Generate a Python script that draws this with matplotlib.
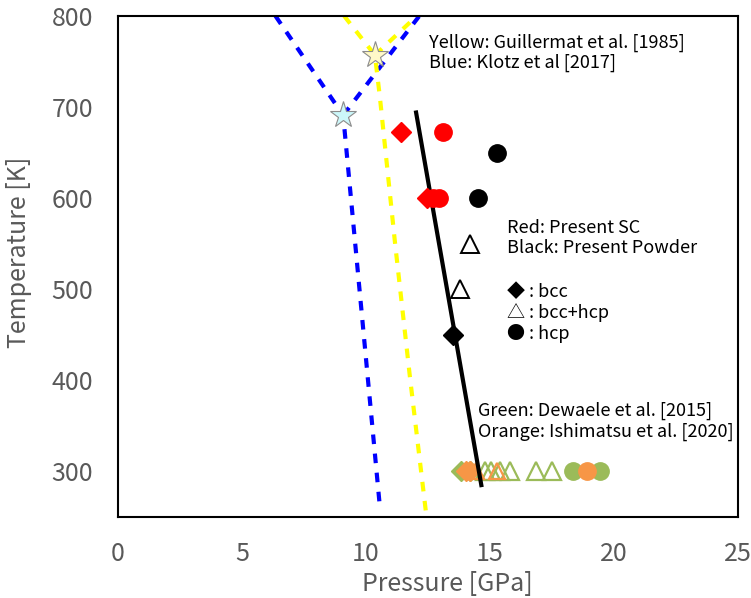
import matplotlib.pyplot as plt

plt.rcParams['font.family'] = ['Noto Sans CJK JP', 'DejaVu Sans']

# phase boundaries (P [GPa], T [K])
blue_p = [6.35, 9.08, 10.56]
blue_t = [800, 691, 261]
blue_arm_p = [9.08, 12.15]
blue_arm_t = [691, 800]
yellow_p = [9.12, 10.36, 10.56, 11.17, 11.77, 12.44]
yellow_t = [800, 757, 711, 551, 404, 250]
yellow_arm_p = [10.36, 12.05]
yellow_arm_t = [757, 800]
star_blue = (9.08, 691)
star_yellow = (10.36, 757)

# present work boundary
black_line_p = [12.02, 14.65]
black_line_t = [694, 285]

# present SC (red)
red_bcc_p = [11.4, 12.45]
red_bcc_t = [673, 600]
red_hcp_p = [13.1, 12.7, 12.95]
red_hcp_t = [673, 600, 600]

# present powder (black)
blk_bcc_p = [13.52]
blk_bcc_t = [450]
blk_mix_p = [14.19, 13.79]
blk_mix_t = [550, 500]
blk_hcp_p = [15.29, 14.5]
blk_hcp_t = [650, 600]

# Dewaele 2015 (green), 300 K
grn_bcc_p = [13.85, 14.2]
grn_mix_p = [14.8, 15.05, 15.4, 15.8, 16.85, 17.5]
grn_hcp_p = [18.35, 19.45]
# Ishimatsu 2020 (orange), 300 K
org_bcc_p = [14.05, 14.2]
org_mix_p = [14.45, 15.3]
org_hcp_p = [18.9]

GREEN = '#9BBB59'
ORANGE = '#F79646'
GREY = '#595959'

fig = plt.figure(figsize=(7.51, 5.98), dpi=100)
ax = fig.add_axes([0.1571, 0.1355, 0.8256, 0.8378])

dash = (0, (2.3, 2.3))
ax.plot(blue_p, blue_t, color='#0000FF', lw=3, ls=dash, zorder=2)
ax.plot(blue_arm_p, blue_arm_t, color='#0000FF', lw=3, ls=dash, zorder=2)
ax.plot(yellow_p, yellow_t, color='#FFFF00', lw=3, ls=dash, zorder=2)
ax.plot(yellow_arm_p, yellow_arm_t, color='#FFFF00', lw=3, ls=dash, zorder=2)
ax.plot(*star_blue, marker='*', ms=20, mfc='#CCF7FA', mec='#8C8C8C', mew=0.8, zorder=4)
ax.plot(*star_yellow, marker='*', ms=20, mfc='#FFF8C8', mec='#8C8C8C', mew=0.8, zorder=4)

# literature at 300 K (below the black line)
def row(p, t=300):
    return p, [t] * len(p)

ax.plot(*row(grn_bcc_p), 'D', ms=10, color=GREEN, ls='none', zorder=3)
ax.plot(*row(org_bcc_p), 'D', ms=10, color=ORANGE, ls='none', zorder=3)
ax.plot(*row(grn_mix_p), '^', ms=12.5, mfc='none', mec=GREEN, mew=1.6, ls='none', zorder=3)
ax.plot(*row(org_mix_p), '^', ms=11, mfc='none', mec=ORANGE, mew=1.6, ls='none', zorder=3)
ax.plot(*row(grn_hcp_p), 'o', ms=12.5, color=GREEN, ls='none', zorder=3)
ax.plot(*row(org_hcp_p), 'o', ms=12.5, color=ORANGE, ls='none', zorder=3)

ax.plot(black_line_p, black_line_t, color='black', lw=3, zorder=4)

ax.plot(red_bcc_p, red_bcc_t, 'D', ms=10, color='red', ls='none', zorder=5)
ax.plot(red_hcp_p, red_hcp_t, 'o', ms=12.5, color='red', ls='none', zorder=5)
ax.plot(blk_bcc_p, blk_bcc_t, 'D', ms=10, color='black', ls='none', zorder=5)
ax.plot(blk_mix_p, blk_mix_t, '^', ms=12.5, mfc='none', mec='black', mew=1.4, ls='none', zorder=5)
ax.plot(blk_hcp_p, blk_hcp_t, 'o', ms=12.5, color='black', ls='none', zorder=5)

fs = 13
ax.text(12.54, 770, 'Yellow: Guillermat et al. [1985]', fontsize=fs, va='center')
ax.text(12.54, 749, 'Blue: Klotz et al [2017]', fontsize=fs, va='center')
ax.text(15.69, 567, 'Red: Present SC', fontsize=fs, va='center')
ax.text(15.69, 545, 'Black: Present Powder', fontsize=fs, va='center')
ax.text(15.69, 497, '◆ : bcc', fontsize=fs, va='center')
ax.text(15.69, 474, '△ : bcc+hcp', fontsize=fs, va='center')
ax.text(15.69, 451, '● : hcp', fontsize=fs, va='center')
ax.text(14.52, 366, 'Green: Dewaele et al. [2015]', fontsize=fs, va='center')
ax.text(14.52, 343, 'Orange: Ishimatsu et al. [2020]', fontsize=fs, va='center')

ax.set_xlim(0, 25)
ax.set_ylim(250, 800)
ax.set_xticks([0, 5, 10, 15, 20, 25])
ax.set_yticks([300, 400, 500, 600, 700, 800])
ax.tick_params(length=0, labelsize=18, labelcolor=GREY)
ax.tick_params(axis='y', pad=18)
ax.tick_params(axis='x', pad=17)
for s in ax.spines.values():
    s.set_linewidth(1.5)
    s.set_color('black')
ax.set_xlabel('Pressure [GPa]', fontsize=18, color=GREY)
ax.set_ylabel('Temperature [K]', fontsize=18, color=GREY)
ax.xaxis.set_label_coords(0.532, -0.108)
ax.yaxis.set_label_coords(-0.139, 0.529)

fig.savefig('out.png', dpi=100)
